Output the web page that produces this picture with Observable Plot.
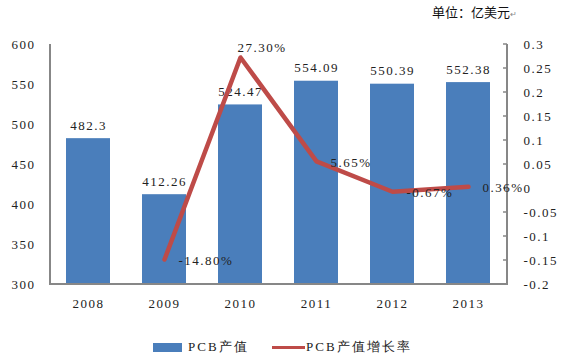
<!DOCTYPE html>
<html><head><meta charset="utf-8">
<script src="https://cdn.jsdelivr.net/npm/d3@7"></script>
<script src="https://cdn.jsdelivr.net/npm/@observablehq/plot@0.6"></script>
<style>
body{margin:0;background:#fff;}
#wrap{width:562px;position:relative;font-family:"Liberation Serif",serif;}
#title{height:25px;position:relative;}
#title span{position:absolute;left:432px;top:2px;font:13px "Noto Sans CJK SC",sans-serif;color:#111;white-space:nowrap;}
#title small{font-size:8px;color:#888;}
#legend{height:36px;position:relative;font-size:13px;letter-spacing:2px;color:#222;}
#legend div{position:absolute;}
</style></head><body>
<div id="wrap">
  <div id="title"><span>单位：亿美元<small>↵</small></span></div>
  <div id="chart"></div>
  <div id="legend">
    <div style="left:153px;top:18px;width:29px;height:9px;background:#4a7ebb"></div>
    <div id="lg1" style="left:188px;top:13px;"></div>
    <div style="left:272px;top:21px;width:33px;height:3px;background:#be4b48"></div>
    <div id="lg2" style="left:306px;top:13px;"></div>
  </div>
</div>
<script>
const years = ["2008", "2009", "2010", "2011", "2012", "2013"];
const output = [482.3, 412.26, 524.47, 554.09, 550.39, 552.38];
const growth = [null, -0.148, 0.273, 0.0565, -0.0067, 0.0036];
const growthLabels = ["", "-14.80%", "27.30%", "5.65%", "-0.67%", "0.36%"];
const leftTicks = [300, 350, 400, 450, 500, 550, 600];
const rightTicks = [-0.2, -0.15, -0.1, -0.05, 0, 0.05, 0.1, 0.15, 0.2, 0.25, 0.3];
const rightTickLabels = ["-0.2", "-0.15", "-0.1", "-0.05", "0", "0.05", "0.1", "0.15", "0.2", "0.25", "0.3"];
const seriesNames = ["PCB产值", "PCB产值增长率"];

document.getElementById("lg1").textContent = seriesNames[0];
document.getElementById("lg2").textContent = seriesNames[1];

// map right-axis (growth rate) values onto the left-axis scale
const toLeft = d3.scaleLinear([-0.2, 0.3], [300, 600]);
const rightTicksLeft = rightTicks.map(toLeft);

const data = years.map((year, i) => ({year, output: output[i], growth: growth[i], label: growthLabels[i]}));
const lineData = data.filter(d => d.growth != null);

const axisColor = "#878787";

const axesLines = (index, scales, channels, dims) => {
  const g = d3.create("svg:g").attr("stroke", axisColor).attr("stroke-width", 2);
  const l = dims.marginLeft, r = dims.width - dims.marginRight;
  const t = scales.y(600), b = scales.y(300);
  g.append("line").attr("x1", l).attr("x2", l).attr("y1", t).attr("y2", b + 1);
  g.append("line").attr("x1", r).attr("x2", r).attr("y1", t).attr("y2", b + 1);
  g.append("line").attr("x1", l - 1).attr("x2", r + 1).attr("y1", b).attr("y2", b);
  for (const v of rightTicksLeft) {
    const yy = scales.y(v);
    g.append("line").attr("x1", r - 4).attr("x2", r).attr("y1", yy).attr("y2", yy).attr("stroke-width", 1.5);
  }
  return g.node();
};

const chart = Plot.plot({
  width: 562,
  height: 300,
  marginTop: 19,
  marginBottom: 41,
  marginLeft: 50,
  marginRight: 55,
  style: {fontFamily: "Liberation Serif, serif", fontSize: "13px", letterSpacing: "1.5px", color: "#222", background: "#fff"},
  x: {domain: years, paddingInner: 0.42, paddingOuter: 0.21, axis: null},
  y: {domain: [300, 600], axis: null},
  marks: [
    Plot.barY(data, {x: "year", y1: 300, y2: "output", fill: "#4a7ebb"}),
    Plot.text(data, {x: "year", y: "output", text: d => String(d.output), dy: -13, fill: "#222"}),
    axesLines,
    Plot.axisX({tickSize: 0, tickPadding: 14, fill: "#222", label: null}),
    Plot.axisY(leftTicks, {anchor: "left", tickSize: 0, tickPadding: 15, fill: "#222", label: null}),
    Plot.axisY(rightTicksLeft, {anchor: "right", tickSize: 0, tickPadding: 16, fill: "#222", label: null,
      tickFormat: d => rightTickLabels[rightTicksLeft.indexOf(d)]}),
    Plot.line(lineData, {x: "year", y: d => toLeft(d.growth), stroke: "#be4b48", strokeWidth: 4.5}),
    Plot.text(lineData.filter(d => d.year !== "2010"), {x: "year", y: d => toLeft(d.growth), text: "label",
      textAnchor: "start", dx: 14, dy: 1, fill: "#222"}),
    Plot.text(lineData.filter(d => d.year === "2010"), {x: "year", y: d => toLeft(d.growth), text: "label",
      textAnchor: "start", dx: -3, dy: -10, fill: "#222"})
  ]
});
document.getElementById("chart").appendChild(chart);
</script>
</body></html>
